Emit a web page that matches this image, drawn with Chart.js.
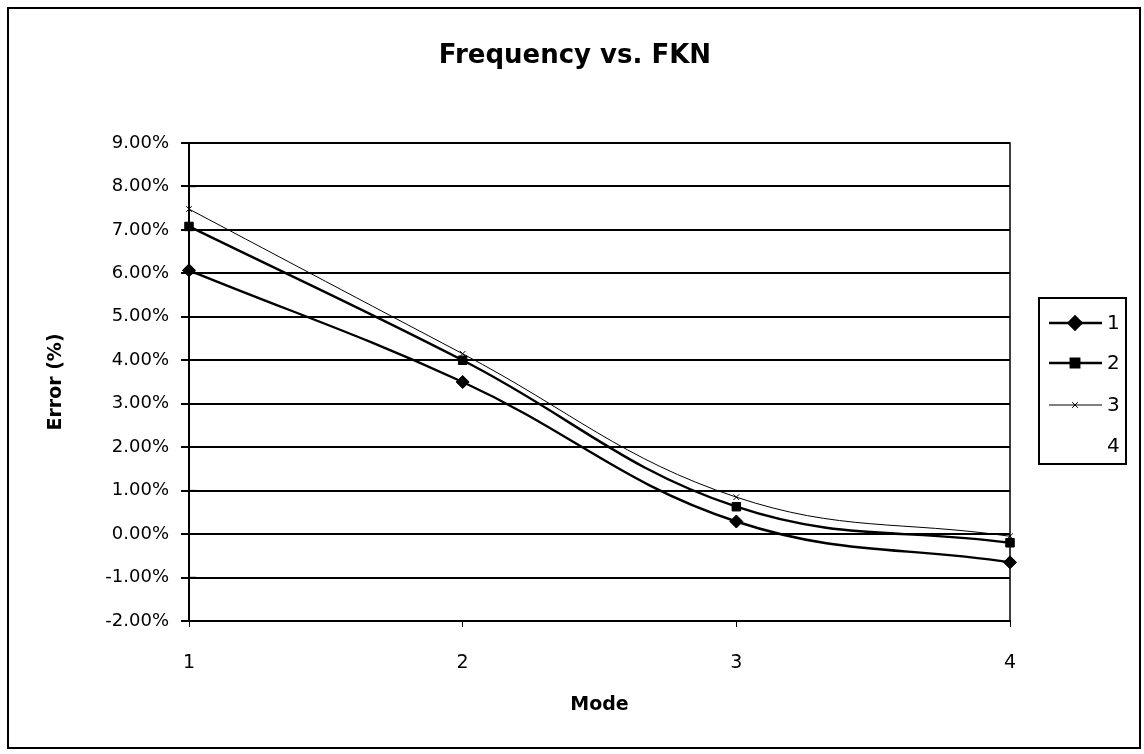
<!DOCTYPE html>
<html>
<head>
<meta charset="utf-8">
<script src="https://cdn.jsdelivr.net/npm/chart.js@4/dist/chart.umd.min.js"></script>
<style>
html,body{margin:0;padding:0;background:#fff;}
#wrap{width:1144px;height:754px;position:relative;}
</style>
</head>
<body>
<div id="wrap"><canvas id="c" width="1144" height="754"></canvas></div>
<script>
const categories = ['1', '2', '3', '4'];
const seriesLabels = ['1', '2', '3', '4'];
const series1 = [6.07, 3.50, 0.29, -0.65];
const series2 = [7.08, 4.00, 0.63, -0.20];
const series3 = [7.48, 4.15, 0.85, -0.05];
const series4 = [null, null, null, null];
const yMin = -2, yMax = 9, yStep = 1;
const chartTitle = 'Frequency vs. FKN';
const xTitle = 'Mode';
const yTitle = 'Error (%)';

const FONT = '"DejaVu Sans", "Liberation Sans", sans-serif';

const framePlugin = {
  id: 'frame',
  beforeDraw(chart) {
    const ctx = chart.ctx;
    ctx.save();
    ctx.fillStyle = '#fff';
    ctx.fillRect(0, 0, chart.width, chart.height);
    ctx.restore();
  },
  afterDraw(chart) {
    const ctx = chart.ctx;
    const a = chart.chartArea;
    ctx.save();
    ctx.strokeStyle = '#000';
    ctx.lineWidth = 2;
    ctx.strokeRect(8, 8, 1132, 740);
    ctx.lineWidth = 1.5;
    ctx.strokeRect(a.left, a.top, a.right - a.left, a.bottom - a.top);
    // small tick marks crossing into the plot on the y axis
    const ys = chart.scales.y;
    ctx.lineWidth = 1.5;
    ys.ticks.forEach(t => {
      const y = ys.getPixelForValue(t.value);
      ctx.beginPath();
      ctx.moveTo(a.left, y);
      ctx.lineTo(a.left + 7, y);
      ctx.stroke();
    });
    ctx.fillStyle = '#000';
    ctx.font = 'bold 26px ' + FONT;
    ctx.textAlign = 'center';
    ctx.textBaseline = 'middle';
    ctx.fillText(chartTitle, 575, 56);
    const lx = 1039, ly = 298, lw = 87, lh = 166;
    ctx.lineWidth = 2;
    ctx.strokeRect(lx, ly, lw, lh);
    const rowY = [323, 363, 405, 446];
    chart.data.datasets.forEach((ds, i) => {
      const y = rowY[i];
      if (ds.showInLegendLine !== false) {
        ctx.strokeStyle = '#000';
        ctx.lineWidth = ds.borderWidth;
        ctx.beginPath();
        ctx.moveTo(1049, y);
        ctx.lineTo(1102, y);
        ctx.stroke();
        Chart.helpers.drawPoint(ctx, {
          pointStyle: ds.pointStyle,
          radius: ds.pointRadius,
          borderWidth: ds.pointBorderWidth || 1,
          rotation: 0
        }, 1075, y);
      }
      ctx.fillStyle = '#000';
      ctx.font = '20px ' + FONT;
      ctx.textAlign = 'left';
      ctx.textBaseline = 'middle';
      ctx.fillText(ds.label, 1107, y + 1);
    });
    ctx.restore();
  }
};

const mk = (label, data, style, r, bw, pbw) => ({
  label, data,
  borderColor: '#000', backgroundColor: '#000',
  borderWidth: bw,
  pointStyle: style, pointRadius: r, pointHoverRadius: r,
  pointBorderWidth: pbw,
  pointBackgroundColor: '#000', pointBorderColor: '#000',
  tension: 0.4, fill: false
});

const datasets = [
  mk(seriesLabels[0], series1, 'rectRot', 6.5, 2.4, 1),
  mk(seriesLabels[1], series2, 'rect', 6, 2.4, 1),
  mk(seriesLabels[2], series3, 'crossRot', 4, 1, 1),
  Object.assign(mk(seriesLabels[3], series4, 'circle', 0, 0, 0), {showInLegendLine: false})
];

new Chart(document.getElementById('c'), {
  type: 'line',
  data: { labels: categories, datasets },
  options: {
    responsive: false,
    animation: false,
    devicePixelRatio: 1,
    layout: { padding: { top: 143, right: 134, bottom: 34, left: 0 } },
    plugins: {
      legend: { display: false },
      title: { display: false },
      tooltip: { enabled: false }
    },
    scales: {
      x: {
        type: 'category',
        offset: false,
        afterFit(s) { s.height = 99; },
        grid: { drawOnChartArea: false, drawTicks: true, tickLength: 6, color: '#000', lineWidth: 1 },
        border: { display: true, color: '#000', width: 2 },
        ticks: { color: '#000', padding: 25, font: { family: FONT, size: 19 } },
        title: { display: true, text: xTitle, color: '#000', padding: { top: 0, bottom: 4 },
                 font: { family: FONT, size: 19, weight: 'bold' } }
      },
      y: {
        min: yMin, max: yMax,
        afterFit(s) { s.width = 189; },
        grid: { color: '#000', lineWidth: 2, drawTicks: true, tickLength: 8 },
        border: { display: true, color: '#000', width: 2 },
        ticks: { stepSize: yStep, color: '#000', padding: 12,
                 font: { family: FONT, size: 18 },
                 callback: v => Number(v).toFixed(2) + '%' },
        title: { display: true, text: yTitle, color: '#000', padding: { top: 45, bottom: 0 },
                 font: { family: FONT, size: 19, weight: 'bold' } }
      }
    }
  },
  plugins: [framePlugin]
});
</script>
</body>
</html>
